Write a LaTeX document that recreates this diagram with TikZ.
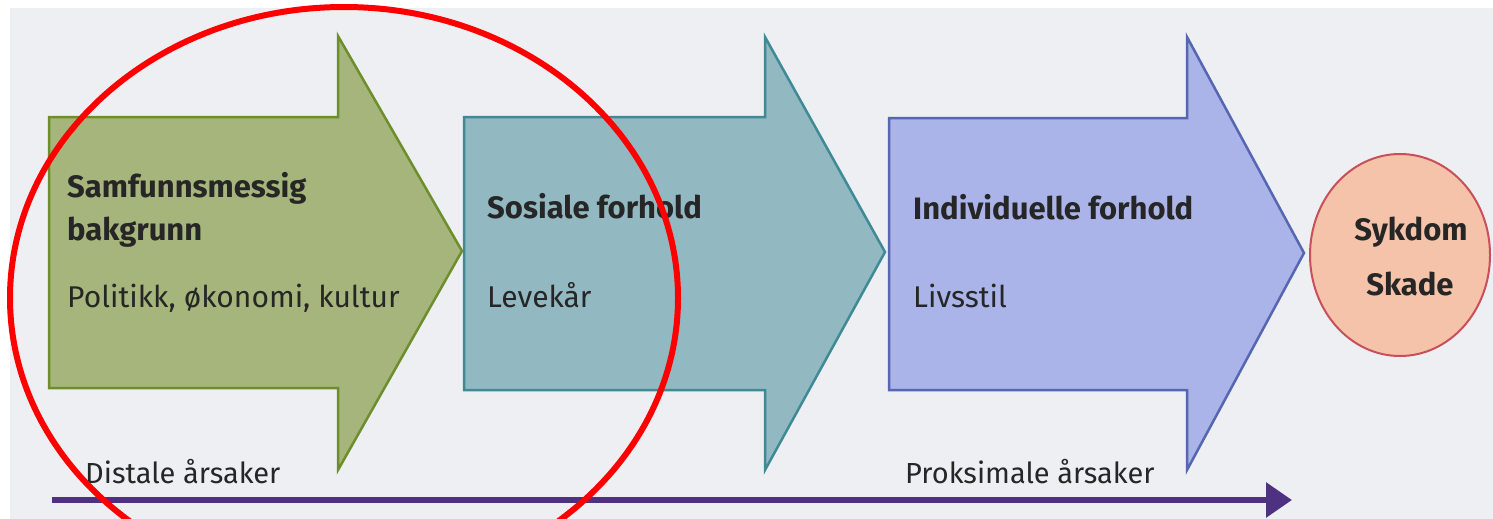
\documentclass[tikz,border=0pt]{standalone}
\usepackage{fontspec}
\setmainfont{Fira Sans}
\usetikzlibrary{arrows.meta,shapes.geometric}
\definecolor{pagebg}{HTML}{EDEFF3}
\definecolor{grfill}{HTML}{A6B57C}
\definecolor{grline}{HTML}{6E8E2C}
\definecolor{tlfill}{HTML}{92B9C2}
\definecolor{tlline}{HTML}{3F8A94}
\definecolor{blfill}{HTML}{AAB4E8}
\definecolor{blline}{HTML}{5566B2}
\definecolor{ocfill}{HTML}{F4C3A9}
\definecolor{ocline}{HTML}{C9505A}
\definecolor{txtcol}{HTML}{262626}
\definecolor{axiscol}{HTML}{4F3182}
\begin{document}
\begin{tikzpicture}[x=1pt,y=-1pt,
  blockarrow/.style={line width=2.5pt, line join=miter},
  lbl/.style={font=\fontsize{30}{36}\selectfont, text=txtcol, inner sep=0pt, anchor=base west},
  lbls/.style={lbl, font=\fontsize{29}{34}\selectfont},
  lblb/.style={lbl, font=\fontsize{31}{37}\selectfont\bfseries},
  lblc/.style={lblb, anchor=base}]
\useasboundingbox (0,0) rectangle (1493,519);
\fill[white] (0,0) rectangle (1493,519);
\fill[pagebg] (10,8) rectangle (1493,519);
% block arrows
\draw[blockarrow, draw=grline, fill=grfill] (49,117) -- (338,117) -- (338,36) -- (462,251) -- (338,470) -- (338,388) -- (49,388) -- cycle;
\draw[blockarrow, draw=tlline, fill=tlfill] (464,117) -- (765,117) -- (765,37) -- (885,252) -- (765,470) -- (765,390) -- (464,390) -- cycle;
\draw[blockarrow, draw=blline, fill=blfill] (889,118) -- (1187,118) -- (1187,37) -- (1304,253) -- (1187,470) -- (1187,390) -- (889,390) -- cycle;
% outcome
\node[ellipse, draw=ocline, fill=ocfill, line width=2pt, minimum width=180pt, minimum height=202pt, inner sep=0pt] (oc) at (1400,255) {};
% texts
\node[lblb] (t1) at (67,197) {Samfunnsmessig};
\node[lblb] (t2) at (67,240) {bakgrunn};
\node[lbl] (t3) at (67,307) {Politikk, økonomi, kultur};
\node[lblb] (t4) at (487,218) {Sosiale forhold};
\node[lbl] (t5) at (487,307) {Levekår};
\node[lblb] (t6) at (913,219) {Individuelle forhold};
\node[lbl] (t7) at (913,307) {Livsstil};
\node[lblc] (t8) at (1411,240) {Sykdom};
\node[lblc] (t9) at (1410,295) {Skade};
\node[lbls] (t10) at (85,483) {Distale årsaker};
\node[lbls] (t11) at (905,483) {Proksimale årsaker};
% axis
\coordinate (axs) at (52,500);
\coordinate (axe) at (1292,500);
\draw[axiscol, line width=6pt, -{Triangle[length=26pt,width=34pt]}] (axs) -- (axe);
% red marking
\draw[red, line width=6pt] (344,298) ellipse [x radius=334pt, y radius=291pt];
\end{tikzpicture}
\end{document}
